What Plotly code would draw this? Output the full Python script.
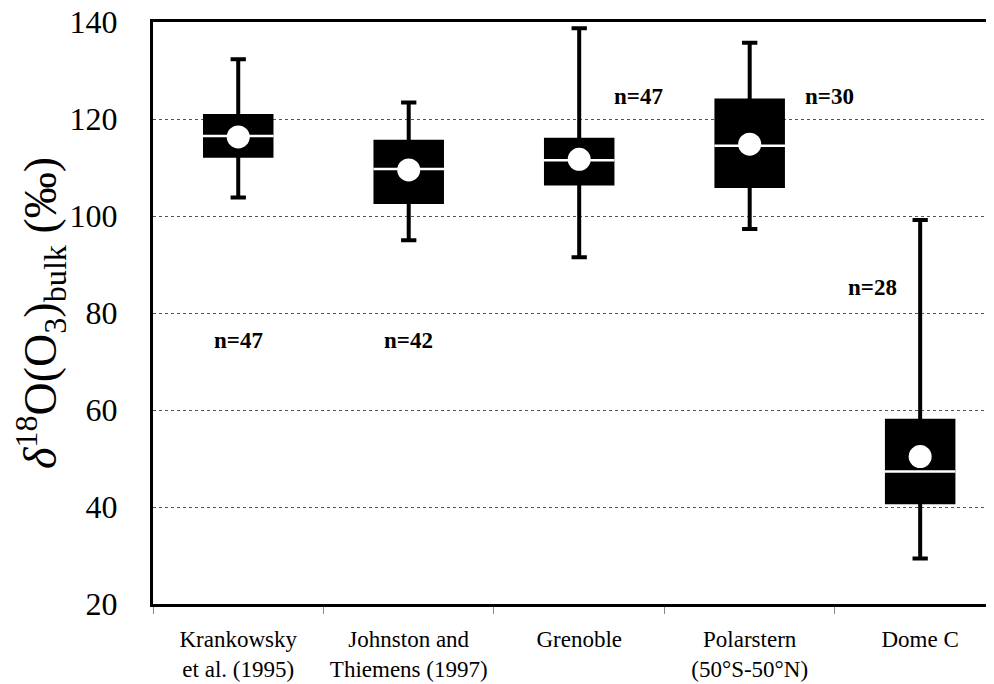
import plotly.graph_objects as go

categories = ["Krankowsky<br>et al. (1995)", "Johnston and<br>Thiemens (1997)", "Grenoble",
              "Polarstern<br>(50°S-50°N)", "Dome C"]
whisker_low = [103.8, 95.0, 91.5, 97.3, 29.4]
q1 = [112.4, 102.9, 106.7, 106.2, 41.0]
median = [116.5, 109.7, 111.5, 114.5, 47.3]
q3 = [120.6, 115.3, 115.7, 123.8, 57.8]
whisker_high = [132.3, 123.4, 138.7, 135.7, 99.2]
means = [116.3, 109.5, 111.7, 114.8, 50.4]
n_labels = ["n=47", "n=42", "n=47", "n=30", "n=28"]

# annotation placement (layout)
n_label_x = [0, 1, 2.35, 3.47, 3.72]
n_label_y = [74.3, 74.3, 124.6, 124.6, 85.2]

BOX_W = 0.39
xs = list(range(len(categories)))
FONT = "Liberation Serif, Times New Roman, DejaVu Serif, serif"

fig = go.Figure()
fig.add_trace(go.Box(
    x=xs, q1=q1, median=median, q3=q3,
    lowerfence=whisker_low, upperfence=whisker_high,
    width=BOX_W, whiskerwidth=0.23,
    fillcolor="black", line=dict(color="black", width=4),
    boxpoints=False, showlegend=False, hoverinfo="skip",
))

# white median lines
mx, my = [], []
for i, m in zip(xs, median):
    mx += [i - BOX_W / 2 - 0.012, i + BOX_W / 2 + 0.012, None]
    my += [m, m, None]
fig.add_trace(go.Scatter(x=mx, y=my, mode="lines",
                         line=dict(color="white", width=2.5),
                         showlegend=False, hoverinfo="skip"))

# mean circles
fig.add_trace(go.Scatter(x=xs, y=means, mode="markers",
                         marker=dict(color="white", size=23, line=dict(width=0)),
                         showlegend=False, hoverinfo="skip"))

for t, x, y in zip(n_labels, n_label_x, n_label_y):
    fig.add_annotation(x=x, y=y, text="<b>" + t + "</b>", showarrow=False,
                       font=dict(family=FONT, size=23, color="black"))

fig.update_layout(
    width=994, height=684,
    margin=dict(l=145, r=0, t=14, b=88),
    plot_bgcolor="white", paper_bgcolor="white",
    font=dict(family=FONT, color="black"),
    xaxis=dict(
        range=[-0.5, 4.48], tickmode="array", tickvals=xs, ticktext=categories,
        tickfont=dict(family=FONT, size=23), ticks="", showgrid=False, zeroline=False,
        showline=True, linecolor="black", linewidth=3, mirror=True,
        ticklabelstandoff=12, automargin=False,
        minor=dict(ticks="outside", tick0=-0.5, dtick=1, ticklen=7,
                   tickcolor="#888", tickwidth=1, showgrid=False),
    ),
    yaxis=dict(
        range=[20, 140], tickmode="linear", tick0=20, dtick=20,
        tickfont=dict(family=FONT, size=32), ticks="", showgrid=True,
        gridcolor="#555", griddash="dot", gridwidth=1, zeroline=False,
        showline=True, linecolor="black", linewidth=3, mirror=False,
        ticklabelstandoff=26, automargin=False, ticklabeloverflow="allow",
        title=dict(text="<i>δ</i><sup>18</sup>O(O<sub>3</sub>)<sub>bulk</sub> (‰)",
                   font=dict(family=FONT, size=46), standoff=6),
    ),
)

fig.write_html("out.html")
